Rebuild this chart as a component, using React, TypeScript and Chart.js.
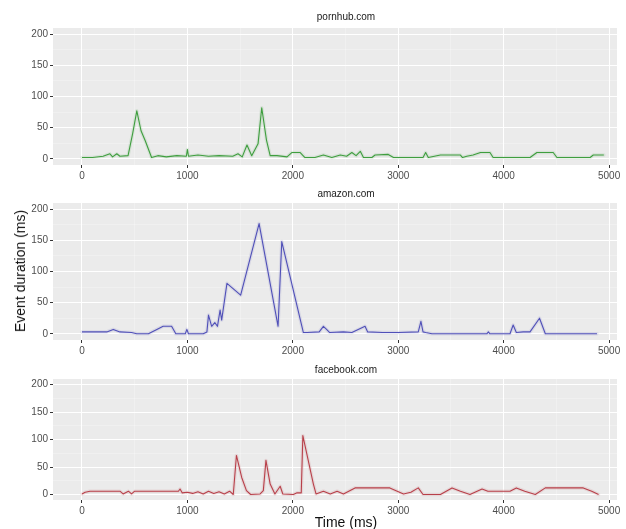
import React, { useEffect, useRef } from "react";
import { Chart, registerables } from "chart.js";

Chart.register(...registerables);

// ---- data (time in ms, event duration in ms) ----
const pornhubTime = [0, 100, 200, 265, 290, 330, 360, 437, 480, 520, 560, 600, 660, 720, 800, 900, 990, 1000, 1010, 1100, 1200, 1300, 1430, 1480, 1520, 1565, 1610, 1670, 1705, 1750, 1785, 1850, 1945, 1990, 2070, 2115, 2210, 2290, 2370, 2450, 2510, 2560, 2600, 2640, 2670, 2750, 2780, 2905, 2955, 3235, 3260, 3285, 3400, 3590, 3610, 3650, 3710, 3780, 3870, 3900, 4250, 4315, 4470, 4505, 4820, 4850, 4950];
const pornhubDuration = [2, 2, 4, 8, 3, 8, 4, 5, 40, 77, 45, 29, 2, 5, 3, 5, 4, 15, 4, 6, 4, 5, 4, 8, 3, 22, 5, 24, 82, 30, 5, 5, 3, 10, 10, 2, 2, 6, 2, 6, 4, 10, 5, 12, 2, 2, 6, 7, 2, 2, 10, 2, 6, 6, 2, 4, 6, 10, 10, 2, 2, 10, 10, 2, 2, 6, 6];

const amazonTime = [0, 235, 297, 360, 470, 520, 630, 710, 770, 850, 890, 980, 995, 1010, 1150, 1185, 1200, 1230, 1260, 1285, 1310, 1325, 1375, 1505, 1680, 1860, 1895, 2100, 2135, 2250, 2290, 2320, 2350, 2480, 2560, 2685, 2710, 2850, 3000, 3190, 3215, 3235, 3260, 3320, 3840, 3855, 3870, 4060, 4090, 4120, 4185, 4250, 4340, 4395, 4885];
const amazonDuration = [3, 3, 7, 3, 2, 0, 0, 7, 12, 12, 0, 0, 7, 0, 0, 3, 30, 12, 18, 12, 38, 22, 81, 62, 177, 12, 148, 2, 2, 3, 12, 7, 2, 3, 2, 12, 3, 2, 2, 3, 20, 3, 2, 0, 0, 3, 0, 0, 14, 2, 3, 3, 25, 0, 0];

const facebookTime = [0, 30, 76, 360, 390, 440, 470, 500, 915, 930, 950, 1000, 1050, 1100, 1150, 1200, 1250, 1300, 1350, 1400, 1435, 1465, 1515, 1560, 1600, 1690, 1720, 1745, 1785, 1830, 1880, 1905, 2005, 2040, 2080, 2095, 2195, 2220, 2290, 2355, 2420, 2480, 2590, 2920, 3050, 3120, 3190, 3235, 3400, 3510, 3590, 3680, 3795, 3850, 4060, 4120, 4200, 4300, 4395, 4755, 4835, 4900];
const facebookDuration = [1, 4, 6, 6, 1, 6, 1, 6, 6, 10, 3, 4, 2, 5, 1, 6, 2, 5, 1, 6, 0, 71, 31, 7, 0, 1, 7, 62, 19, 1, 15, 1, 0, 3, 3, 107, 19, 1, 6, 1, 6, 1, 12, 12, 1, 4, 12, 0, 0, 12, 6, 0, 10, 6, 6, 12, 6, 0, 12, 12, 6, 0];

const xGridValues = [0, 500, 1000, 1500, 2000, 2500, 3000, 3500, 4000, 4500, 5000];
const xTickValues = [0, 1000, 2000, 3000, 4000, 5000];
const yGridValues = [0, 25, 50, 75, 100, 125, 150, 175, 200];
const yTickValues = [0, 50, 100, 150, 200];

const panelTitles = ["pornhub.com", "amazon.com", "facebook.com"];

const FONT = "'Liberation Sans', Arial, sans-serif";

const bgPlugin = {
  id: "ggBg",
  beforeDraw(chart: any) {
    const { ctx, chartArea } = chart;
    ctx.save();
    ctx.fillStyle = "#EBEBEB";
    ctx.fillRect(chartArea.left, chartArea.top, chartArea.right - chartArea.left, chartArea.bottom - chartArea.top);
    ctx.restore();
  },
};

type PanelProps = {
  top: number;
  height: number;
  padTop: number;
  times: number[];
  values: number[];
  color: string;
  halo: string;
};

function Panel({ top, height, padTop, times, values, color, halo }: PanelProps) {
  const ref = useRef<HTMLCanvasElement | null>(null);
  useEffect(() => {
    if (!ref.current) return;
    const isMajorX = (v: number) => xTickValues.includes(v);
    const isMajorY = (v: number) => yTickValues.includes(v);
    const pts = times.map((t, i) => ({ x: t, y: values[i] }));
    const chart = new Chart(ref.current, {
      type: "line",
      data: {
        datasets: [
          {
            data: pts,
            borderColor: color,
            borderWidth: 1.1,
            borderJoinStyle: "round",
            pointRadius: 0,
            tension: 0,
            fill: false,
            order: 0,
          },
          {
            data: pts,
            borderColor: halo,
            borderWidth: 3.5,
            borderJoinStyle: "round",
            borderCapStyle: "round",
            pointRadius: 0,
            tension: 0,
            fill: false,
            order: 1,
          },
        ],
      },
      options: {
        responsive: false,
        animation: false,
        events: [],
        layout: { padding: { left: 0, right: 9, top: padTop, bottom: 0 } },
        plugins: { legend: { display: false }, tooltip: { enabled: false }, title: { display: false } },
        scales: {
          x: {
            type: "linear",
            min: -275,
            max: 5075,
            afterBuildTicks: (axis: any) => {
              axis.ticks = xGridValues.map((v) => ({ value: v }));
            },
            afterFit: (scale: any) => {
              scale.height = 20;
            },
            border: { display: false },
            grid: {
              color: (c: any) => (isMajorX(c.tick.value) ? "#FFFFFF" : "rgba(255,255,255,0.55)"),
              lineWidth: (c: any) => (isMajorX(c.tick.value) ? 1 : 0.5),
              tickColor: (c: any) => (isMajorX(c.tick.value) ? "#333333" : "rgba(0,0,0,0)"),
              tickLength: 3,
              drawTicks: true,
            },
            ticks: {
              autoSkip: false,
              maxRotation: 0,
              padding: 2,
              color: "#4D4D4D",
              font: { family: FONT, size: 10 },
              callback: (v: any) => (isMajorX(Number(v)) ? String(v) : ""),
            },
          },
          y: {
            type: "linear",
            min: -10,
            max: 210,
            afterBuildTicks: (axis: any) => {
              axis.ticks = yGridValues.map((v) => ({ value: v }));
            },
            afterFit: (scale: any) => {
              scale.width = 53;
            },
            border: { display: false },
            grid: {
              color: (c: any) => (isMajorY(c.tick.value) ? "#FFFFFF" : "rgba(255,255,255,0.55)"),
              lineWidth: (c: any) => (isMajorY(c.tick.value) ? 1 : 0.5),
              tickColor: (c: any) => (isMajorY(c.tick.value) ? "#333333" : "rgba(0,0,0,0)"),
              tickLength: 3,
            },
            ticks: {
              autoSkip: false,
              padding: 2,
              color: "#4D4D4D",
              font: { family: FONT, size: 10 },
              callback: (v: any) => (isMajorY(Number(v)) ? String(v) : ""),
            },
          },
        },
      },
      plugins: [bgPlugin],
    });
    return () => chart.destroy();
  }, []);
  return (
    <canvas
      ref={ref}
      width={626}
      height={height}
      style={{ position: "absolute", left: 0, top, width: 626, height }}
    />
  );
}

const titleStyle: React.CSSProperties = {
  position: "absolute",
  width: 200,
  marginLeft: -100,
  textAlign: "center",
  fontFamily: FONT,
  fontSize: 10,
  color: "#1A1A1A",
  lineHeight: "10px",
};

export default function App() {
  return (
    <div style={{ position: "absolute", left: 0, top: 0, width: 626, height: 529, background: "#FFFFFF", overflow: "hidden" }}>
      <Panel top={0} height={185} padTop={28} times={pornhubTime} values={pornhubDuration} color="#3F9E3F" halo="rgba(63,158,63,0.12)" />
      <Panel top={185} height={175} padTop={18} times={amazonTime} values={amazonDuration} color="#5050B8" halo="rgba(80,80,184,0.12)" />
      <Panel top={360} height={160} padTop={19} times={facebookTime} values={facebookDuration} color="#B8404A" halo="rgba(184,64,74,0.12)" />
      <div style={{ ...titleStyle, left: 346, top: 12 }}>{panelTitles[0]}</div>
      <div style={{ ...titleStyle, left: 346, top: 189 }}>{panelTitles[1]}</div>
      <div style={{ ...titleStyle, left: 346, top: 365 }}>{panelTitles[2]}</div>
      <div
        style={{
          position: "absolute",
          left: 20,
          top: 271,
          transform: "translate(-50%, -50%) rotate(-90deg)",
          whiteSpace: "nowrap",
          fontFamily: FONT,
          fontSize: 14,
          color: "#111111",
        }}
      >
        Event duration (ms)
      </div>
      <div
        style={{
          position: "absolute",
          left: 346,
          top: 522,
          transform: "translate(-50%, -50%)",
          whiteSpace: "nowrap",
          fontFamily: FONT,
          fontSize: 14,
          color: "#111111",
        }}
      >
        Time (ms)
      </div>
    </div>
  );
}
